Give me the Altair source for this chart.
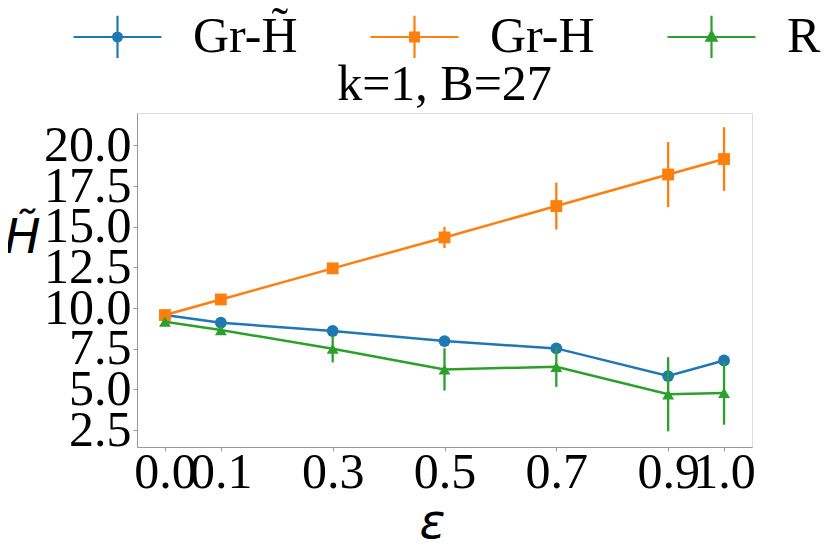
import altair as alt
import pandas as pd

eps = [0.0, 0.1, 0.3, 0.5, 0.7, 0.9, 1.0]
series = ["Gr-H\u0303", "Gr-H", "R"]
colors = ["#1f77b4", "#ff7f0e", "#2ca02c"]
shapes = ["circle", "square", "triangle-up"]

grht_val = [9.57, 9.10, 8.59, 7.97, 7.52, 5.82, 6.78]
grht_err = [0.05, 0.08, 0.10, 0.12, 0.15, 0.20, 0.20]
grh_val = [9.57, 10.53, 12.44, 14.34, 16.27, 18.21, 19.16]
grh_err = [0.05, 0.10, 0.30, 0.65, 1.44, 2.00, 1.96]
r_val = [9.16, 8.65, 7.50, 6.23, 6.39, 4.70, 4.78]
r_err = [0.10, 0.15, 0.84, 1.30, 1.23, 2.28, 1.95]

x_ticks = [0.0, 0.1, 0.3, 0.5, 0.7, 0.9, 1.0]
y_ticks = [2.5, 5.0, 7.5, 10.0, 12.5, 15.0, 17.5, 20.0]

rows = []
for name, vals, errs in zip(series, [grht_val, grh_val, r_val], [grht_err, grh_err, r_err]):
    for e, v, er in zip(eps, vals, errs):
        rows.append({"eps": e, "val": v, "lo": v - er, "hi": v + er, "series": name})
df = pd.DataFrame(rows)

serif = "Liberation Serif"
xscale = alt.Scale(domain=[-0.05, 1.05], nice=False, zero=False)
yscale = alt.Scale(domain=[1.46, 21.99], nice=False, zero=False)
cscale = alt.Scale(domain=series, range=colors)

xaxis = alt.Axis(
    values=x_ticks, format=".1f", title="\u03b5", grid=False,
    labelFont=serif, labelFontSize=50, labelColor="black",
    labelBaseline="alphabetic", labelPadding=36, labelFlush=False, labelOverlap=False,
    tickSize=4, tickColor="#999999", domainColor="#999999",
    titleFont="DejaVu Sans", titleFontStyle="italic", titleFontWeight="normal",
    titleFontSize=48, titleColor="black", titleBaseline="alphabetic",
    titleX=295, titleY=90)
yaxis = alt.Axis(
    values=y_ticks, format=".1f", title="H\u0303", grid=False,
    labelFont=serif, labelFontSize=50, labelColor="black",
    labelPadding=2, labelFlush=False, labelOverlap=False,
    tickSize=4, tickColor="#999999", domainColor="#999999",
    titleFont="DejaVu Sans", titleFontStyle="italic", titleFontWeight="normal",
    titleFontSize=48, titleColor="black", titleAngle=0,
    titleAlign="center", titleBaseline="middle", titleX=-115, titleY=125)

xenc = alt.X("eps:Q", scale=xscale, axis=xaxis)
yenc = alt.Y("val:Q", scale=yscale, axis=yaxis)

base = alt.Chart(df)
layers = []

# legend-only layer (invisible marks); legend symbols drawn with stroke only
lw = 2.2
paths = [
    "M-1,0H1M0,-0.48V0.48"
    "M-0.1,0A0.1,0.1,0,1,0,0.1,0A0.1,0.1,0,1,0,-0.1,0Z"
    "M-0.06,0A0.06,0.06,0,1,0,0.06,0A0.06,0.06,0,1,0,-0.06,0Z"
    "M-0.025,0A0.025,0.025,0,1,0,0.025,0A0.025,0.025,0,1,0,-0.025,0Z",
    "M-1,0H1M0,-0.48V0.48"
    "M-0.1,-0.1H0.1V0.1H-0.1Z"
    "M-0.06,-0.06H0.06V0.06H-0.06Z"
    "M-0.025,-0.025H0.025V0.025H-0.025Z",
    "M-1,0H1M0,-0.48V0.48"
    "M0,-0.13L0.115,0.085L-0.115,0.085Z"
    "M0,-0.07L0.06,0.05L-0.06,0.05Z",
]
leg = alt.Legend(title=None, orient="none", direction="horizontal",
                 legendX=-65, legendY=-122, padding=0,
                 symbolSize=7744, symbolStrokeWidth=lw, symbolOpacity=1,
                 symbolFillColor="transparent",
                 labelFont=serif, labelFontSize=50, labelColor="black",
                 labelOffset=30, columnPadding=68, labelLimit=400)
legend_layer = base.mark_point(filled=False, size=7744, strokeWidth=lw, opacity=0).encode(
    x=xenc, y=yenc,
    stroke=alt.Stroke("series:N", scale=alt.Scale(domain=series, range=colors), legend=leg),
    shape=alt.Shape("series:N", scale=alt.Scale(domain=series, range=paths), legend=leg),
)
layers.append(legend_layer)

for name, shp in zip(series, shapes):
    sub = base.transform_filter(alt.datum.series == name)
    layers.append(sub.mark_rule(strokeWidth=2.3).encode(
        x=xenc, y=alt.Y("lo:Q", scale=yscale, axis=yaxis), y2="hi:Q",
        color=alt.Color("series:N", scale=cscale, legend=None)))
    layers.append(sub.mark_line(strokeWidth=2.5).encode(
        x=xenc, y=yenc,
        color=alt.Color("series:N", scale=cscale, legend=None)))
    layers.append(sub.mark_point(shape=shp, filled=True, size=140, opacity=1).encode(
        x=xenc, y=yenc,
        color=alt.Color("series:N", scale=cscale, legend=None)))

chart = alt.layer(*layers).properties(
    width=615, height=334,
    title=alt.TitleParams("k=1, B=27", font=serif, fontSize=50, fontWeight="normal",
                          color="black", anchor="middle", frame="group",
                          baseline="alphabetic", offset=0, dy=159),
    autosize=alt.AutoSizeParams(type="none"),
    padding={"left": 129, "top": 105, "right": 70, "bottom": 100},
).configure_view(stroke="#999999", strokeWidth=1.2).configure(background="white")

chart.save("out.html", embed_options={"renderer": "svg", "actions": False})
